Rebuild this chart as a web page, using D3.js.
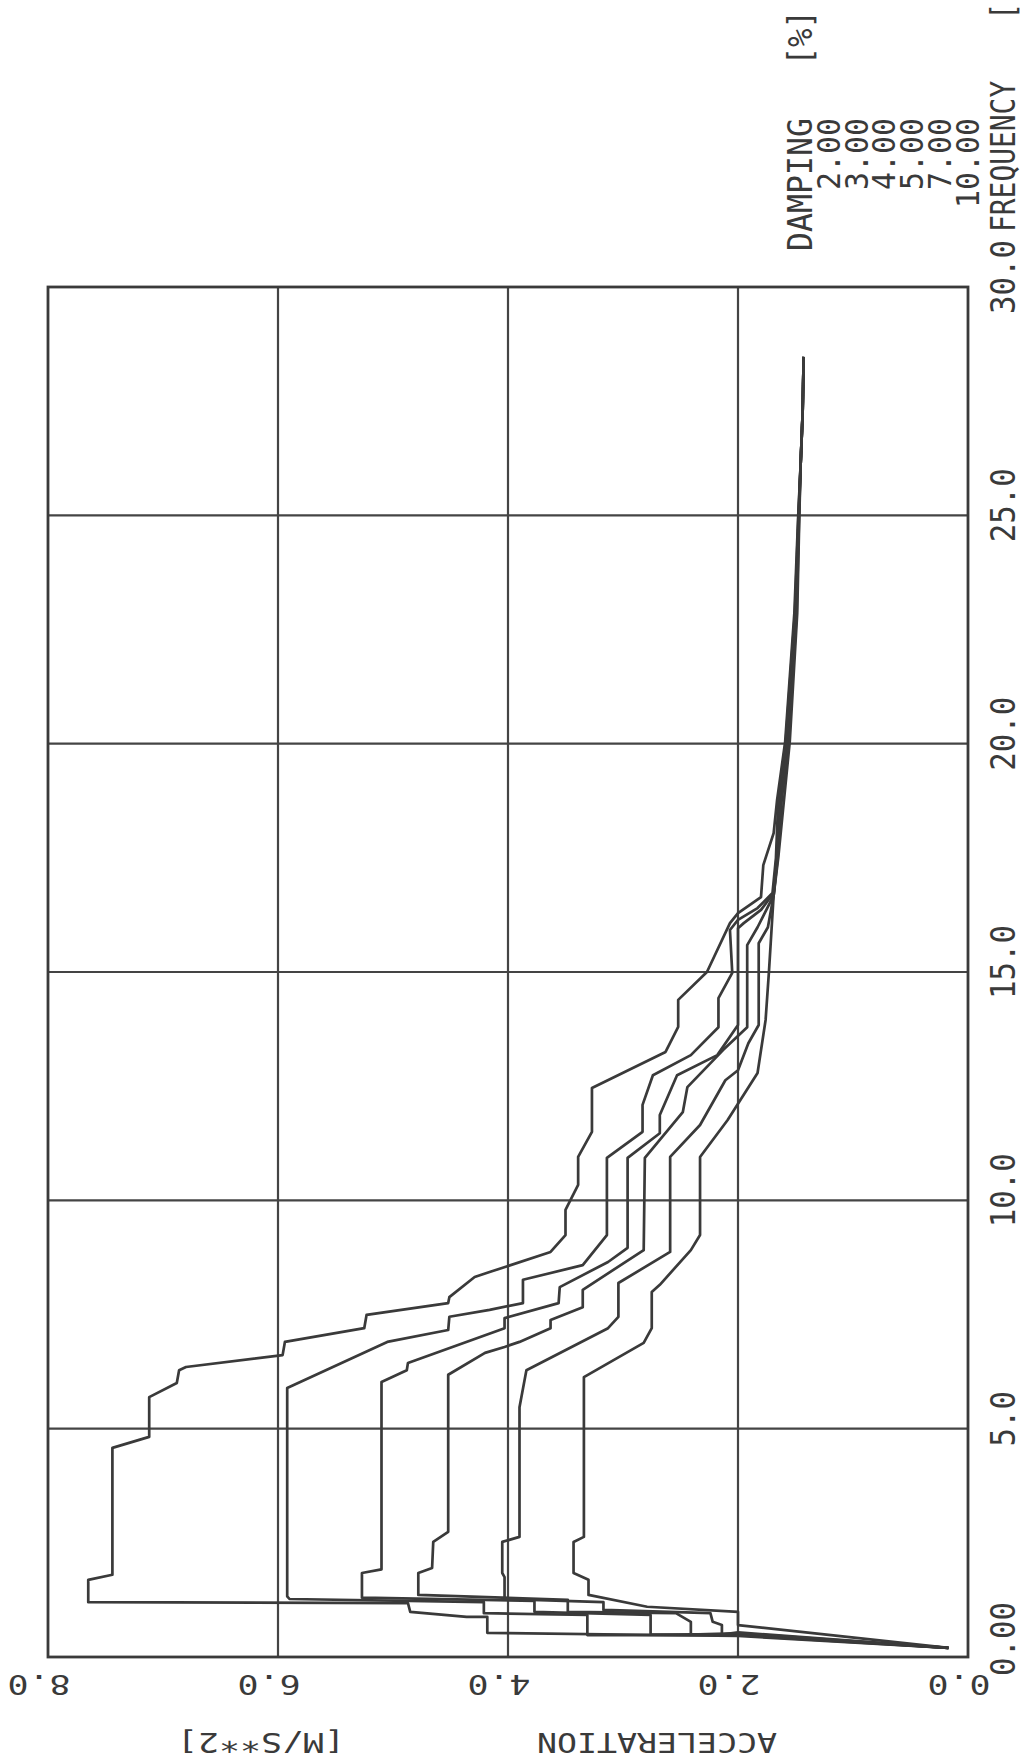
<!DOCTYPE html>
<html>
<head>
<meta charset="utf-8">
<script src="https://cdn.jsdelivr.net/npm/d3@7"></script>
<style>
  html, body { margin: 0; padding: 0; background: #fff; }
  svg { display: block; }
</style>
</head>
<body>
<svg id="chart" width="1025" height="1764"></svg>
<script>
// ---- data (frequency [Hz], acceleration [m/s**2]) ----
const freqTicks      = [0, 5, 10, 15, 20, 25, 30];
const freqTickLabels = ["0.00", "5.0", "10.0", "15.0", "20.0", "25.0", "30.0"];
const accTicks       = [0, 2, 4, 6, 8];
const accTickLabels  = ["0.0", "2.0", "4.0", "6.0", "8.0"];
const dampingLabels  = ["2.00", "3.00", "4.00", "5.00", "7.00", "10.00"];

const damp2 = [
  [0.20,0.17],[0.46,2.00],[0.53,4.18],[0.88,4.18],[0.88,4.36],[0.99,4.85],[1.18,4.87],
  [1.20,7.65],[1.69,7.65],[1.80,7.44],[4.58,7.44],[4.82,7.12],[5.69,7.12],[6.00,6.88],
  [6.28,6.86],[6.35,6.80],[6.61,5.96],[6.90,5.94],[7.20,5.25],[7.49,5.23],[7.75,4.52],
  [7.88,4.51],[8.32,4.29],[8.43,4.16],[8.87,3.63],[9.24,3.50],[9.79,3.50],[10.34,3.39],
  [10.95,3.39],[11.50,3.27],[12.46,3.27],[13.25,2.63],[13.80,2.52],[14.39,2.52],
  [15.00,2.27],[16.07,2.07],[16.29,2.00],[16.64,1.80],[17.34,1.78],[18.04,1.69],
  [18.77,1.66],[20.04,1.59],[22.86,1.51],[24.96,1.477],[26.14,1.455],[27.24,1.438],[28.47,1.429]
];
const damp3 = [
  [0.20,0.17],[0.48,2.00],[0.48,3.31],[0.92,3.31],[0.96,4.21],[1.20,4.21],[1.27,5.90],
  [1.33,5.92],[5.89,5.92],[6.90,5.05],[7.16,4.52],[7.45,4.51],[7.60,4.16],[7.75,3.87],
  [8.26,3.87],[8.58,3.35],[9.24,3.14],[10.93,3.14],[11.50,2.83],[12.09,2.83],[12.74,2.74],
  [13.18,2.41],[13.79,2.17],[14.43,2.17],[14.98,2.05],[15.92,2.07],[16.14,2.00],[16.40,1.83],
  [16.73,1.70],[17.50,1.67],[18.77,1.65],[20.04,1.585],[22.86,1.505],[24.96,1.475],
  [26.14,1.455],[27.24,1.438],[28.47,1.429]
];
const damp4 = [
  [0.20,0.17],[0.50,2.00],[0.49,2.76],[0.92,2.76],[0.99,3.77],[1.23,3.77],[1.30,5.27],
  [1.84,5.27],[1.92,5.10],[6.02,5.10],[6.28,4.88],[6.44,4.87],[7.20,4.03],[7.42,4.03],
  [7.75,3.56],[8.10,3.55],[8.65,3.13],[8.96,2.96],[10.93,2.96],[11.47,2.68],[11.87,2.68],
  [12.74,2.53],[13.18,2.18],[13.84,2.00],[15.96,2.00],[16.07,1.95],[16.36,1.80],[16.73,1.69],
  [17.50,1.665],[18.77,1.64],[20.04,1.58],[22.86,1.50],[24.96,1.473],[26.14,1.455],
  [27.24,1.438],[28.47,1.429]
];
const damp5 = [
  [0.20,0.17],[0.52,2.00],[0.49,2.41],[0.77,2.41],[0.96,2.54],[0.99,3.48],[1.25,3.48],
  [1.36,4.78],[1.84,4.78],[1.95,4.66],[2.52,4.65],[2.74,4.52],[6.18,4.52],[6.66,4.20],
  [6.79,4.03],[6.90,3.90],[7.20,3.63],[7.38,3.63],[7.66,3.35],[8.04,3.35],[8.91,2.82],
  [10.93,2.81],[11.93,2.48],[12.48,2.44],[13.29,2.13],[13.79,1.92],[15.59,1.92],[15.98,1.83],
  [16.68,1.69],[17.50,1.66],[18.77,1.63],[20.04,1.57],[22.86,1.495],[24.96,1.471],
  [26.14,1.455],[27.24,1.438],[28.47,1.429]
];
const damp7 = [
  [0.20,0.17],[0.54,2.00],[0.49,2.14],[0.70,2.14],[0.77,2.22],[0.96,2.24],[1.03,3.17],
  [1.20,3.17],[1.27,4.03],[1.75,4.03],[1.84,4.05],[2.52,4.05],[2.63,3.90],[5.47,3.90],
  [6.28,3.84],[7.20,3.13],[7.45,3.04],[8.19,3.04],[8.87,2.59],[10.95,2.59],[11.65,2.33],
  [12.63,2.11],[12.85,2.00],[13.44,1.91],[13.84,1.82],[15.63,1.82],[15.98,1.74],[16.68,1.69],
  [17.50,1.655],[18.77,1.62],[20.04,1.56],[22.86,1.49],[24.96,1.469],[26.14,1.455],
  [27.24,1.438],[28.47,1.429]
];
const damp10 = [
  [0.20,0.17],[0.70,2.00],[0.99,2.00],[1.10,2.79],[1.36,3.30],[1.69,3.30],[1.84,3.43],
  [2.52,3.43],[2.63,3.34],[6.13,3.34],[6.88,2.82],[7.20,2.75],[7.99,2.75],[8.15,2.68],
  [8.91,2.41],[9.24,2.33],[10.95,2.33],[11.76,2.09],[12.63,1.87],[12.79,1.83],[13.95,1.76],
  [15.04,1.73],[16.68,1.69],[17.50,1.65],[18.77,1.60],[20.04,1.55],[22.86,1.485],
  [24.96,1.467],[26.14,1.455],[27.24,1.438],[28.47,1.429]
];
const series = [damp2, damp3, damp4, damp5, damp7, damp10];

// ---- layout: the plot is drawn turned a quarter turn (frequency runs upward) ----
const svg = d3.select("#chart");
const ink = "#3a3a3a";
const font = "DejaVu Sans Mono, monospace";
const plot = { left: 48, right: 968, top: 287, bottom: 1657 };

const x = d3.scaleLinear().domain([0, 8]).range([plot.right, plot.left]);   // acceleration
const y = d3.scaleLinear().domain([0, 30]).range([plot.bottom, plot.top]);  // frequency

// grid
const grid = svg.append("g").attr("stroke", "#444").attr("stroke-width", 2.2);
grid.selectAll(".vg")
  .data(accTicks.filter(d => d > 0 && d < 8))
  .enter().append("line")
  .attr("x1", d => x(d)).attr("x2", d => x(d))
  .attr("y1", plot.top).attr("y2", plot.bottom);
grid.selectAll(".hg")
  .data(freqTicks.filter(d => d > 0 && d < 30))
  .enter().append("line")
  .attr("y1", d => y(d)).attr("y2", d => y(d))
  .attr("x1", plot.left).attr("x2", plot.right);

// frame
svg.append("rect")
  .attr("x", plot.left).attr("y", plot.top)
  .attr("width", plot.right - plot.left).attr("height", plot.bottom - plot.top)
  .attr("fill", "none").attr("stroke", ink).attr("stroke-width", 2.8);

// spectra
const line = d3.line().x(d => x(d[1])).y(d => y(d[0]));
svg.append("g").selectAll("path")
  .data(series)
  .enter().append("path")
  .attr("d", line)
  .attr("fill", "none")
  .attr("stroke", ink)
  .attr("stroke-width", 2.7)
  .attr("stroke-linejoin", "round");

// text helper: rotated, fixed pitch plotter-like lettering
function label(str, tx, ty, angle, anchor, size, pitch) {
  svg.append("text")
    .attr("transform", `translate(${tx},${ty}) rotate(${angle})`)
    .attr("text-anchor", anchor)
    .attr("font-family", font)
    .attr("font-size", size)
    .attr("fill", ink)
    .attr("textLength", str.length * pitch)
    .attr("lengthAdjust", "spacingAndGlyphs")
    .text(str);
}

// acceleration tick labels (upside down, under the plot)
accTicks.forEach((v, i) => label(accTickLabels[i], x(v) - 9, 1675, 180, "middle", 27, 21));

// acceleration axis title
label("ACCELERATION", 657, 1733, 180, "middle", 27, 20);
label("[M/S**2]", 261, 1733, 180, "middle", 27, 21);

// frequency tick labels (reading upward, right of the plot)
freqTicks.forEach((v, i) => {
  const shift = i === 0 ? 18 : 10;
  label(freqTickLabels[i], 1015, y(v) - shift, -90, "middle", 34, 18.5);
});

// frequency axis title (only its start fits on the sheet)
label("FREQUENCY", 1015, 232, -90, "start", 34, 16.8);
label("[", 1015, 20, -90, "start", 34, 17);

// damping legend
label("DAMPING", 812, 118, -90, "end", 34, 19);
label("[%]", 812, 10, -90, "end", 34, 18.5);
dampingLabels.forEach((s, k) => label(s, 840 + 27.7 * k, 118, -90, "end", 32, 18));
</script>
</body>
</html>
